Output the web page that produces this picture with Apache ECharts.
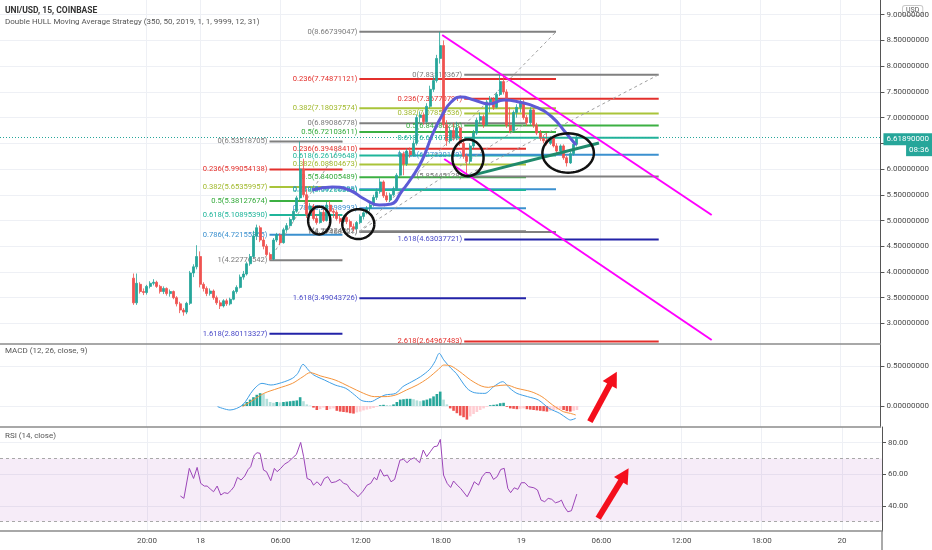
<!DOCTYPE html>
<html><head><meta charset="utf-8">
<script src="https://cdn.jsdelivr.net/npm/echarts@6/dist/echarts.min.js"></script>
<style>html,body{margin:0;padding:0;background:#fff;}#c{width:932px;height:550px;}</style>
</head><body><div id="c"></div>
<script>
// ---------- time axis (hours from 18th 00:00) ----------
const timeTickHours = [-4, 0, 6, 12, 18, 24, 30, 36, 42, 48];
const timeTickLabels = ['20:00', '18', '06:00', '12:00', '18:00', '19', '06:00', '12:00', '18:00', '20'];
const firstBarHour = -5;      // first 15-min bar at 17th 19:00
const barStepHours = 0.25;
// ---------- price ticks ----------
const priceTicks = [3, 3.5, 4, 4.5, 5, 5.5, 6, 6.5, 7, 7.5, 8, 8.5, 9];
const macdTicks = [0, 0.5];
const rsiTicks = [40, 60, 80];
// ---------- candles [open, close, low, high] ----------
const candles = [
[3.88,3.40,3.36,3.97],[3.40,3.78,3.36,3.97],[3.76,3.62,3.58,3.80],[3.62,3.60,3.55,3.68],[3.60,3.72,3.56,3.75],
[3.72,3.78,3.68,3.82],[3.78,3.80,3.74,3.86],[3.80,3.72,3.69,3.83],[3.72,3.62,3.58,3.75],[3.62,3.68,3.57,3.72],
[3.68,3.58,3.54,3.70],[3.58,3.62,3.52,3.66],[3.62,3.50,3.47,3.64],[3.50,3.38,3.33,3.53],[3.38,3.26,3.20,3.42],
[3.26,3.22,3.15,3.30],[3.22,3.39,3.18,3.42],[3.39,3.98,3.36,4.02],[3.98,4.10,3.90,4.15],[4.10,4.30,4.05,4.52],
[4.30,3.76,3.70,4.40],[3.76,3.68,3.62,3.80],[3.68,3.58,3.53,3.72],[3.58,3.63,3.54,3.68],[3.63,3.50,3.46,3.66],
[3.50,3.40,3.36,3.54],[3.40,3.34,3.28,3.45],[3.34,3.44,3.31,3.47],[3.44,3.38,3.34,3.48],[3.38,3.47,3.35,3.50],
[3.47,3.62,3.45,3.65],[3.62,3.70,3.58,3.74],[3.70,3.90,3.68,3.95],[3.90,3.96,3.85,4.02],[3.96,4.16,3.93,4.20],
[4.16,4.30,4.12,4.35],[4.30,4.70,4.28,4.80],[4.70,4.86,4.62,4.92],[4.86,4.62,4.58,4.90],[4.62,4.50,4.44,4.68],
[4.50,4.34,4.30,4.54],[4.34,4.25,4.228,4.38],[4.25,4.62,4.23,4.66],[4.62,4.72,4.58,4.76],[4.72,4.57,4.52,4.75],
[4.57,4.82,4.55,4.86],[4.82,4.90,4.78,4.95],[4.90,5.02,4.88,5.06],[5.02,5.18,4.98,5.22],[5.18,5.44,5.15,5.48],
[5.44,6.00,5.40,6.535],[6.00,5.50,5.45,6.20],[5.50,5.12,5.05,5.60],[5.12,5.28,5.08,5.34],[5.28,5.04,5.00,5.32],
[5.04,4.96,4.92,5.10],[4.96,5.16,4.94,5.20],[5.16,5.00,4.97,5.22],[5.00,5.30,4.98,5.36],[5.30,5.18,5.12,5.38],
[5.18,5.16,5.05,5.24],[5.16,5.04,5.00,5.20],[5.04,4.98,4.94,5.10],[4.98,5.06,4.95,5.10],[5.06,4.98,4.93,5.12],
[4.98,4.88,4.84,5.02],[4.88,4.84,4.79,4.94],[4.84,4.96,4.82,4.99],[4.96,5.08,4.93,5.12],[5.08,5.15,5.02,5.18],
[5.15,5.24,5.12,5.28],[5.24,5.30,5.18,5.34],[5.30,5.45,5.27,5.50],[5.45,5.56,5.40,5.62],[5.56,5.75,5.52,5.82],
[5.75,5.48,5.44,5.78],[5.48,5.40,5.36,5.55],[5.40,5.50,5.36,5.54],[5.50,5.62,5.47,5.66],[5.62,5.88,5.58,5.92],
[5.88,6.30,5.85,6.36],[6.30,6.10,5.88,6.34],[6.10,6.35,6.06,6.40],[6.35,6.28,6.22,6.42],[6.28,6.50,6.25,6.56],
[6.50,7.00,6.46,7.06],[7.00,7.05,6.90,7.12],[7.05,6.92,6.86,7.10],[6.92,7.22,6.90,7.28],[7.22,7.55,7.18,7.62],
[7.55,7.72,7.50,7.80],[7.72,8.15,7.68,8.22],[8.15,8.40,8.05,8.667],[8.40,6.86,6.80,8.50],[6.86,6.55,6.45,6.95],
[6.55,6.75,6.50,6.82],[6.75,6.60,6.55,6.90],[6.60,6.80,6.56,6.92],[6.80,6.50,6.45,6.84],[6.50,6.25,6.20,6.56],
[6.25,6.15,5.854,6.30],[6.15,6.45,6.10,6.50],[6.45,6.70,6.40,6.76],[6.70,6.95,6.66,7.00],[6.95,7.02,6.88,7.10],
[7.02,6.86,6.80,7.06],[6.86,7.30,6.84,7.34],[7.30,7.36,7.10,7.42],[7.36,7.20,7.15,7.40],[7.20,7.45,7.18,7.50],
[7.45,7.70,7.42,7.83],[7.70,7.50,7.45,7.835],[7.50,6.85,6.80,7.55],[6.85,6.75,6.70,7.20],[6.75,7.10,6.72,7.14],
[7.10,7.20,7.00,7.26],[7.20,7.30,7.10,7.36],[7.30,7.00,6.96,7.34],[7.00,6.90,6.84,7.05],[6.90,7.15,6.86,7.20],
[7.15,6.85,6.80,7.18],[6.85,6.70,6.66,6.90],[6.70,6.60,6.55,6.76],[6.60,6.55,6.50,6.66],[6.55,6.50,6.46,6.70],
[6.50,6.60,6.47,6.64],[6.60,6.45,6.42,6.62],[6.45,6.35,6.30,6.50],[6.35,6.45,6.32,6.48],[6.45,6.22,6.18,6.48],
[6.22,6.12,6.05,6.26],[6.12,6.30,6.10,6.34],[6.30,6.48,6.26,6.52],[6.48,6.6189,6.44,6.66]
];
const lastPrice = 6.6189;
const lastPriceText = '6.61890000';
const countdownText = '08:36';
// ---------- HULL moving average [hour, price] ----------
const hullPoints = [[8.42,5.593],[9.92,5.651],[11.19,5.593],[12.31,5.418],[13.43,5.301],[14.33,5.321],[15.08,5.554],
[15.90,5.845],[16.65,6.176],[17.40,6.662],[18.15,7.051],[18.82,7.303],[19.57,7.401],[20.54,7.342],[21.66,7.264],
[22.79,7.342],[23.91,7.303],[25.18,7.206],[26.38,7.012],[27.43,6.701],[28.18,6.468]];
// ---------- Fibonacci retracements ----------
const fibLevelsA = ['0','0.236','0.382','0.5','0.618','0.786','1','1.618'];
const fibPricesA = [6.53518705,5.99054138,5.65359957,5.38127674,5.10895390,4.72155365,4.22776542,2.80113327];
const fibSpanA = [5.20, 10.67];
const fibLevelsB = ['0','0.236','0.382','0.5','0.618','0.786','1'];
const fibPricesB = [8.66739047,7.74871121,7.18037574,6.72103611,6.26169648,5.60772099,4.77468121];
const fibSpanB = [11.94, 26.68];
const fibLevelsC = ['0','0.236','0.382','0.5','0.618','0.786','1','1.618'];
const fibPricesC = [6.89086778,6.39488410,6.08804673,5.84005489,5.59206306,5.23898993,4.78924202,3.49043726];
const fibSpanC = [11.94, 24.43];
const fibLevelsD = ['0','0.236','0.382','0.5','0.618','0.786','1','1.618','2.618'];
const fibPricesD = [7.83515367,7.36770791,7.07852536,6.84480248,6.61107959,6.27830159,5.85445128,4.63037721,2.64967483];
const fibSpanD = [19.80, 34.38];
const fibTrendA = [[5.20,4.22776542],[10.67,6.53518705]];
const fibTrendB = [[11.94,4.77468121],[26.68,8.66739047]];
const fibTrendC = [[11.94,4.78924202],[24.43,6.89086778]];
const fibTrendD = [[19.80,5.85445128],[34.38,7.83515367]];
// ---------- drawn trend lines ----------
const channelUpper = [[18.15,8.605],[38.35,5.107]];
const channelLower = [[18.30,6.195],[38.35,2.678]];
const supportLine = [[20.0,5.854],[29.9,6.506]];
// ellipses [centerHour, centerPrice, radiusHours, radiusPrice]
const ellipses = [[8.93,5.00,0.83,0.27],[11.86,4.93,1.20,0.29],[20.08,6.22,1.17,0.356],[27.59,6.312,1.93,0.383]];
// ---------- MACD ----------
const macdLine = [[1.31,-0.008],[2.24,-0.05],[3.18,0.0125],[3.98,0.2],[4.64,0.283],[5.31,0.2625],[6.11,0.292],[6.92,0.346],
[7.32,0.408],[7.72,0.521],[8.12,0.45],[8.52,0.3875],[9.32,0.325],[10.12,0.2625],[10.92,0.221],[11.59,0.1375],[12.13,0.067],
[12.79,0.054],[13.33,0.096],[13.86,0.1375],[14.66,0.158],[15.2,0.242],[15.87,0.304],[16.53,0.367],[17.21,0.458],[17.6,0.554],
[17.93,0.658],[18.27,0.575],[18.81,0.471],[19.2,0.408],[20.01,0.221],[20.55,0.167],[21.35,0.158],[22.01,0.242],[22.68,0.304],
[23.22,0.221],[23.75,0.158],[24.55,0.117],[25.36,0.075],[26.16,-0.029],[26.96,-0.092],[27.5,-0.154],[27.76,-0.175],[28.16,-0.154]];
const signalLine = [[3.18,-0.008],[3.98,0.075],[4.78,0.158],[5.85,0.221],[6.92,0.283],[7.72,0.367],[8.25,0.417],[9.05,0.375],
[10.12,0.325],[11.19,0.242],[12.26,0.158],[13.06,0.117],[13.86,0.117],[14.66,0.1375],[15.47,0.2],[16.27,0.2625],[17.07,0.346],
[17.87,0.458],[18.27,0.5125],[18.81,0.5],[19.47,0.429],[20.28,0.325],[21.08,0.25],[21.61,0.233],[22.15,0.25],[22.95,0.2625],
[23.75,0.221],[24.82,0.179],[25.62,0.117],[26.43,0.0125],[27.23,-0.071],[27.76,-0.092],[28.16,-0.1125]];
const histFirstBar = 33;
const histValues = [0.02,0.05,0.08,0.11,0.14,0.16,0.15,0.09,0.05,0.04,
 0.05,0.045,0.05,0.055,0.06,0.065,0.07,0.11,0.06,0.02,
 0.005,-0.02,-0.05,-0.04,-0.02,-0.05,-0.04,-0.03,-0.06,-0.07,
 -0.075,-0.08,-0.09,-0.095,-0.08,-0.07,-0.055,-0.045,-0.035,-0.025,
 -0.01,0.01,0.015,0.012,0.01,0.02,0.05,0.08,0.085,0.09,
 0.09,0.085,0.07,0.06,0.07,0.08,0.095,0.12,0.15,0.18,
 0.08,0.02,-0.03,-0.06,-0.09,-0.12,-0.14,-0.17,-0.13,-0.1,
 -0.075,-0.05,-0.03,-0.01,0.01,0.015,0.02,0.035,0.04,-0.01,
 -0.03,-0.035,-0.04,-0.035,-0.03,-0.04,-0.045,-0.05,-0.055,-0.06,
 -0.065,-0.07,-0.06,-0.05,-0.045,-0.04,-0.05,-0.065,-0.07,-0.06,
 -0.05];
const macdArrow = [[29.22,-0.196,31.24,0.429]];
// ---------- RSI ----------
const rsiPoints = [[-1.50,46.2],[-1.24,44.7],[-0.835,63.7],[-0.515,57.3],[-0.248,64.3],[0.02,54.2],[0.287,52.5],[0.50,52.5],
[0.77,50.4],[0.98,48.9],[1.25,52.5],[1.52,46.8],[1.78,48.3],[2.05,47.8],[2.32,50.0],[2.51,52.1],[2.77,58.0],[3.04,56.3],
[3.31,58.8],[3.57,63.0],[3.76,64.7],[4.03,72.1],[4.24,73.6],[4.46,73.2],[4.72,62.6],[4.94,61.6],[5.26,55.9],[5.53,63.7],
[5.74,61.6],[6.01,63.7],[6.27,66.2],[6.59,67.9],[6.86,70.0],[7.18,72.5],[7.50,80.1],[7.72,71.1],[7.98,57.3],[8.25,56.3],
[8.46,53.1],[8.73,55.2],[9.0,52.7],[9.27,57.3],[9.53,58.4],[9.80,54.6],[10.12,55.2],[10.44,56.7],[10.71,54.2],[10.97,53.5],
[11.24,50.0],[11.59,47.8],[11.78,45.7],[12.13,48.9],[12.47,53.1],[12.74,54.2],[13.01,58.0],[13.19,56.3],[13.46,63.0],
[13.73,58.8],[13.99,59.5],[14.26,55.2],[14.53,56.7],[14.93,68.9],[15.20,69.4],[15.46,67.3],[15.73,69.4],[16.0,70.4],
[16.40,67.3],[16.67,75.3],[16.93,71.1],[17.20,74.2],[17.47,77.4],[17.73,77.8],[17.95,82.0],[18.19,59.5],[18.46,54.2],
[18.72,51.6],[18.94,55.7],[19.21,53.1],[19.47,51.0],[19.96,45.7],[20.22,50.0],[20.49,55.2],[20.81,53.1],[21.08,58.4],
[21.35,61.1],[21.67,60.9],[21.93,56.7],[22.20,58.4],[22.47,63.0],[22.73,63.7],[23.0,51.0],[23.21,48.3],[23.48,51.4],
[23.75,50.4],[24.01,54.6],[24.28,54.6],[24.55,52.1],[24.95,51.4],[25.22,50.0],[25.49,43.6],[25.76,42.6],[26.02,44.7],
[26.29,44.1],[26.56,41.9],[26.83,42.6],[27.01,43.6],[27.23,39.4],[27.49,36.2],[27.76,36.9],[28.16,47.4]];
const rsiBand = [30, 70];
const rsiArrow = [[29.76,32.1,32.04,63.7]];

// ================= rendering =================
const FONT = 'Roboto, "Open Sans", sans-serif';
const barHour = i => firstBarHour + i * barStepHours;
const fibLineColor = {'0':'#808080','0.236':'#e3302c','0.382':'#a9c43a','0.5':'#3cb043','0.618':'#1fb59a','0.786':'#3b90cf','1':'#808080','1.618':'#2323a8','2.618':'#e3302c'};
const fibTextColor = {'0':'#7a7a7a','0.236':'#e3302c','0.382':'#a2ba2e','0.5':'#33aa3a','0.618':'#1fb59a','0.786':'#3b90cf','1':'#7a7a7a','1.618':'#4a4ac8','2.618':'#e3302c'};

const fibItems = [];
function addFib(levels, prices, span) {
  levels.forEach((lv, k) => fibItems.push({value:[span[0], span[1], prices[k]], level: lv, text: lv + '(' + prices[k].toFixed(8) + ')'}));
}
addFib(fibLevelsA, fibPricesA, fibSpanA);
addFib(fibLevelsB, fibPricesB, fibSpanB);
addFib(fibLevelsC, fibPricesC, fibSpanC);
addFib(fibLevelsD, fibPricesD, fibSpanD);

const histData = histValues.map((v, k) => {
  const prev = k > 0 ? histValues[k - 1] : 0;
  let color;
  if (v >= 0) color = v >= prev ? '#26a69a' : '#b2dfdb';
  else color = v <= prev ? '#ef5350' : '#ffcdd2';
  return {value: [barHour(histFirstBar + k), v], itemStyle: {color}};
});

function timeLabel(v) {
  const k = timeTickHours.findIndex(t => Math.abs(t - v) < 1e-6);
  return k >= 0 ? timeTickLabels[k] : '';
}

const xAxes = [0, 1, 2].map(g => ({
  type: 'value', gridIndex: g, min: -15, max: 51,
  axisLine: {show: true, onZero: false, lineStyle: {color: '#8c8c8c', width: 1.5}},
  axisTick: {show: false, customValues: timeTickHours},
  axisLabel: {show: g === 2, customValues: timeTickHours, formatter: timeLabel, fontSize: 8, color: '#4a4a4a', margin: 6, fontFamily: FONT},
  splitLine: {show: true, lineStyle: {color: '#eef0f5', width: 1}}
}));
function yAx(g, min, max, ticks, digits) {
  return {
    type: 'value', gridIndex: g, position: 'right', min, max,
    axisLine: {show: true, onZero: false, lineStyle: {color: '#555', width: 1}},
    axisTick: {show: true, length: 4, customValues: ticks, lineStyle: {color: '#555'}},
    axisLabel: {customValues: ticks, formatter: v => v.toFixed(digits), fontSize: 8, color: '#4a4a4a', margin: 6, fontFamily: FONT},
    splitLine: {show: true, lineStyle: {color: '#eef0f5', width: 1}}
  };
}

function lineSeries(data, color, width, extra) {
  return Object.assign({type: 'line', xAxisIndex: 0, yAxisIndex: 0, data, symbol: 'none', silent: true,
    lineStyle: {color, width}, z: 5}, extra || {});
}
function arrowRender(params, api) {
  const a = api.coord([api.value(0), api.value(1)]);
  const b = api.coord([api.value(2), api.value(3)]);
  const ang = Math.atan2(b[1] - a[1], b[0] - a[0]);
  const L = 15, W = 8;
  const cs = Math.cos(ang), sn = Math.sin(ang);
  const base = [b[0] - L * cs, b[1] - L * sn];
  return {type: 'group', children: [
    {type: 'line', shape: {x1: a[0], y1: a[1], x2: base[0] + cs * 2, y2: base[1] + sn * 2}, style: {stroke: '#f40f1c', lineWidth: 6}},
    {type: 'polygon', shape: {points: [b, [base[0] - sn * W, base[1] + cs * W], [base[0] + sn * W, base[1] - cs * W]]}, style: {fill: '#f40f1c'}}
  ]};
}

const option = {
  animation: false,
  backgroundColor: '#ffffff',
  textStyle: {fontFamily: FONT},
  title: [
    {text: 'UNI/USD, 15, COINBASE', left: 5, top: 6, padding: 0, textStyle: {fontSize: 8.5, fontWeight: 'bold', color: '#333', fontFamily: FONT}},
    {text: 'Double HULL Moving Average Strategy (350, 50, 2019, 1, 1, 9999, 12, 31)', left: 5, top: 18, padding: 0, textStyle: {fontSize: 8, fontWeight: 'normal', color: '#555', fontFamily: FONT}},
    {text: 'MACD (12, 26, close, 9)', left: 5, top: 347, padding: 0, textStyle: {fontSize: 8, fontWeight: 'normal', color: '#555', fontFamily: FONT}},
    {text: 'RSI (14, close)', left: 5, top: 432, padding: 0, textStyle: {fontSize: 8, fontWeight: 'normal', color: '#555', fontFamily: FONT}}
  ],
  grid: [
    {left: 0, right: 50, top: 0, height: 344},
    {left: 0, right: 50, top: 344, height: 83},
    {left: 0, right: 50, top: 427, height: 104}
  ],
  xAxis: xAxes,
  yAxis: [yAx(0, 2.6, 9.286, priceTicks, 8), yAx(1, -0.2625, 0.775, macdTicks, 8), yAx(2, 24.05, 89.87, rsiTicks, 2)],
  graphic: [
    {type: 'line', shape: {x1: 882, y1: 531, x2: 882, y2: 550}, style: {stroke: '#555', lineWidth: 1}},
    {type: 'text', left: 902, top: 5, style: {text: 'USD', fontSize: 7, fill: '#555', fontFamily: FONT, backgroundColor: '#fff', borderColor: '#c8c8c8', borderWidth: 1, borderRadius: 2, padding: [1, 3]}}
  ],
  series: [
    {
      type: 'custom', xAxisIndex: 0, yAxisIndex: 0, z: 2, silent: true,
      encode: {x: [0, 1], y: 2},
      data: fibItems.map(f => f.value),
      renderItem: (params, api) => {
        const f = fibItems[params.dataIndex];
        const a = api.coord([api.value(0), api.value(2)]);
        const b = api.coord([api.value(1), api.value(2)]);
        return {type: 'group', children: [
          {type: 'line', shape: {x1: a[0], y1: a[1], x2: b[0], y2: b[1]}, style: {stroke: fibLineColor[f.level], lineWidth: 2}},
          {type: 'text', x: a[0] - 2, y: a[1], style: {text: f.text, fill: fibTextColor[f.level], fontSize: 7.6, fontFamily: FONT, align: 'right', verticalAlign: 'middle'}}
        ]};
      }
    },
    lineSeries(fibTrendA, '#a0a0a0', 1, {lineStyle: {color: '#a0a0a0', width: 1, type: [3, 3]}, z: 2}),
    lineSeries(fibTrendB, '#a0a0a0', 1, {lineStyle: {color: '#a0a0a0', width: 1, type: [3, 3]}, z: 2}),
    lineSeries(fibTrendC, '#a0a0a0', 1, {lineStyle: {color: '#a0a0a0', width: 1, type: [3, 3]}, z: 2}),
    lineSeries(fibTrendD, '#a0a0a0', 1, {lineStyle: {color: '#a0a0a0', width: 1, type: [3, 3]}, z: 2}),
    {
      type: 'candlestick', xAxisIndex: 0, yAxisIndex: 0, z: 3, silent: true,
      data: candles.map((c, i) => [barHour(i), c[0], c[1], c[2], c[3]]),
      barWidth: 2.4,
      itemStyle: {color: '#26a69a', color0: '#ef5350', borderColor: '#26a69a', borderColor0: '#ef5350', borderWidth: 0.8},
      markLine: {
        silent: true, symbol: ['none', 'none'],
        lineStyle: {color: '#26a69a', type: [1, 2], width: 1},
        label: {
          show: true, position: 'end', distance: 3,
          formatter: () => '{e| }\n{a|' + lastPriceText + '}\n{b|' + countdownText + '}',
          rich: {
            e: {height: 15, fontSize: 8},
            a: {backgroundColor: '#26a69a', color: '#fff', fontSize: 8, fontFamily: FONT, padding: [2, 3, 2, 3], lineHeight: 11},
            b: {backgroundColor: '#26a69a', color: '#fff', fontSize: 8, fontFamily: FONT, padding: [2, 3, 2, 3], lineHeight: 11, align: 'right'}
          }
        },
        data: [{yAxis: lastPrice}]
      }
    },
    lineSeries(hullPoints, '#5d5ad6', 3, {smooth: 0.5, z: 4}),
    lineSeries(channelUpper, '#ff00ff', 2),
    lineSeries(channelLower, '#ff00ff', 2),
    lineSeries(supportLine, '#1f8a6c', 3),
    {
      type: 'custom', xAxisIndex: 0, yAxisIndex: 0, z: 6, silent: true,
      encode: {x: 0, y: 1},
      data: ellipses,
      renderItem: (params, api) => {
        const c = api.coord([api.value(0), api.value(1)]);
        const s = api.size([api.value(2), api.value(3)]);
        const pts = [];
        for (let k = 0; k <= 64; k++) {
          const t = k / 64 * Math.PI * 2;
          pts.push([c[0] + s[0] * Math.cos(t), c[1] + s[1] * Math.sin(t)]);
        }
        return {type: 'polyline', shape: {points: pts}, style: {stroke: '#111', lineWidth: 2.5, fill: null}};
      }
    },
    // MACD pane
    {type: 'bar', xAxisIndex: 1, yAxisIndex: 1, data: histData, barWidth: 2.6, silent: true, z: 2},
    {type: 'line', xAxisIndex: 1, yAxisIndex: 1, data: macdLine, symbol: 'none', smooth: 0.3, silent: true, lineStyle: {color: '#3f9fe6', width: 1}, z: 3},
    {type: 'line', xAxisIndex: 1, yAxisIndex: 1, data: signalLine, symbol: 'none', smooth: 0.3, silent: true, lineStyle: {color: '#f5943c', width: 1}, z: 3},
    {type: 'custom', xAxisIndex: 1, yAxisIndex: 1, z: 6, silent: true, encode: {x: [0, 2], y: [1, 3]}, data: macdArrow, renderItem: arrowRender},
    // RSI pane
    {
      type: 'line', xAxisIndex: 2, yAxisIndex: 2, data: rsiPoints, symbol: 'none', silent: true,
      lineStyle: {color: '#9c45b8', width: 1}, z: 3,
      markArea: {silent: true, itemStyle: {color: 'rgba(156,39,176,0.09)'}, data: [[{yAxis: rsiBand[0]}, {yAxis: rsiBand[1]}]]},
      markLine: {silent: true, symbol: ['none', 'none'], label: {show: false},
        lineStyle: {color: '#a8a8a8', type: [3, 3], width: 1},
        data: [{yAxis: rsiBand[1]}, {yAxis: rsiBand[0]}]}
    },
    {type: 'custom', xAxisIndex: 2, yAxisIndex: 2, z: 6, silent: true, encode: {x: [0, 2], y: [1, 3]}, data: rsiArrow, renderItem: arrowRender}
  ]
};
const chart = echarts.init(document.getElementById('c'), null, {renderer: 'canvas'});
chart.setOption(option);
</script></body></html>
